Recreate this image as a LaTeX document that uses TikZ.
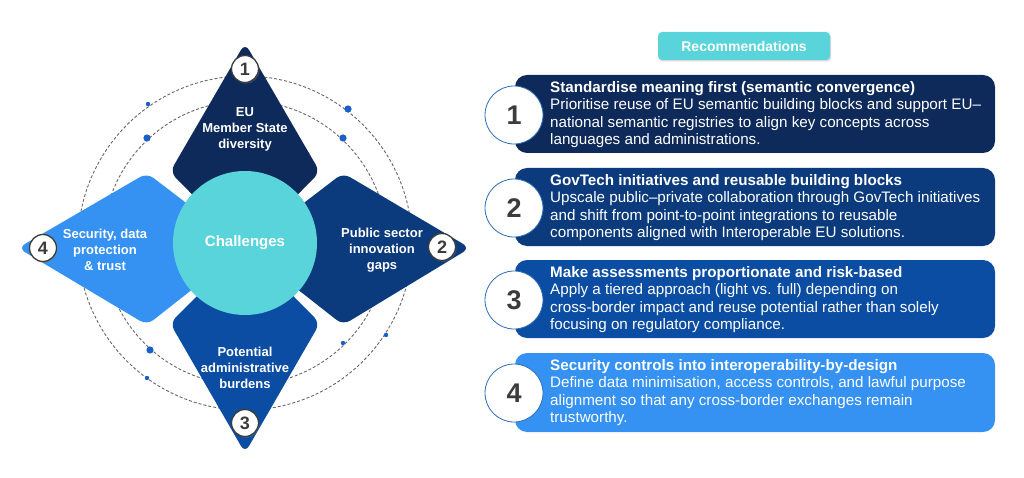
\documentclass[tikz,border=0pt]{standalone}
\usepackage{fontspec}
\setmainfont{Liberation Sans}
\usetikzlibrary{shadows}
\definecolor{cA}{HTML}{0E2A5A}
\definecolor{cB}{HTML}{0B3B7C}
\definecolor{cC}{HTML}{0A4DA2}
\definecolor{cD}{HTML}{3592F2}
\definecolor{teal}{HTML}{58D4DA}
\definecolor{dotblue}{HTML}{1A5FC8}
\definecolor{numgray}{HTML}{3C3C3C}
\definecolor{ringblue}{HTML}{2F6DB5}
\begin{document}
\begin{tikzpicture}[x=1pt,y=-1pt,
  kite/.style={rounded corners=8pt},
  kitelabel/.style={text=white,font=\fontsize{13}{16}\selectfont\bfseries,align=center,inner sep=0pt},
  lbadge/.style={circle,fill=white,draw=numgray,line width=1.3pt,minimum size=27pt,inner sep=0pt,
    font=\fontsize{18}{18}\selectfont\bfseries,text=numgray,
    drop shadow={opacity=0.35,shadow xshift=1pt,shadow yshift=-1.2pt}},
  rbadge/.style={circle,fill=white,draw=ringblue,line width=0.8pt,minimum size=58pt,inner sep=0pt,
    font=\fontsize{27}{27}\selectfont\bfseries,text=numgray},
  rbox/.style={rounded corners=12pt},
  rtext/.style={anchor=north west,align=left,inner sep=0pt,text=white,
    font=\fontsize{15.2}{17.5}\selectfont},
  ring/.style={draw=gray!80!black,line width=0.9pt,dash pattern=on 3pt off 2pt},
]
\useasboundingbox (0,0) rectangle (1024,478);

% dashed rings
\draw[ring] (245,243) circle[radius=167pt];
\draw[ring] (245,243) circle[radius=142pt];
% dots
\fill[dotblue] (148,104) circle[radius=2.2pt];
\fill[dotblue] (147,138) circle[radius=3.6pt];
\fill[dotblue] (348,109) circle[radius=3.6pt];
\fill[dotblue] (343,138) circle[radius=3.6pt];
\fill[dotblue] (343,343) circle[radius=2.2pt];
\fill[dotblue] (386,335) circle[radius=2.2pt];
\fill[dotblue] (150,350) circle[radius=3.6pt];
\fill[dotblue] (147,378) circle[radius=2.2pt];

% kites
\fill[cA,kite] (245,43) -- (320,172) -- (245,248) -- (170,172) -- cycle;
\fill[cB,kite] (470,248) -- (343,325) -- (245,248) -- (343,173) -- cycle;
\fill[cC,kite] (245,453) -- (170,323) -- (245,248) -- (320,323) -- cycle;
\fill[cD,kite] (18,248) -- (147,173) -- (245,248) -- (147,325) -- cycle;

% center circle
\node[circle,fill=teal,minimum size=144pt,inner sep=0pt,text=white,
  font=\fontsize{15}{15}\selectfont\bfseries] (ch) at (245,243) {Challenges};

% kite labels
\node[kitelabel] (k1) at (245,129) {EU\\Member State\\diversity};
\node[kitelabel] (k2) at (382,250) {Public sector\\innovation\\gaps};
\node[kitelabel] (k3) at (245,368) {Potential\\administrative\\burdens};
\node[kitelabel] (k4) at (105,250) {Security, data\\protection\\\& trust};

% left badges
\node[lbadge] (b1) at (245,69) {1};
\node[lbadge] (b2) at (442,247) {2};
\node[lbadge] (b3) at (245,423) {3};
\node[lbadge] (b4) at (43,248) {4};

% recommendations header
\node[rounded corners=4pt,fill=teal,minimum width=172pt,minimum height=28pt,inner sep=0pt,
  text=white,font=\fontsize{14}{14}\selectfont\bfseries,
  drop shadow={opacity=0.3,shadow xshift=1pt,shadow yshift=-1.5pt}] (rec) at (744,46) {Recommendations};

% rows
\fill[cA,rbox] (515,75) rectangle (995,153);
\fill[cB,rbox] (515,168) rectangle (995,246);
\fill[cC,rbox] (515,260) rectangle (995,338);
\fill[cD,rbox] (515,353) rectangle (995,432);

\node[rbadge] (r1) at (514,115) {1};
\node[rbadge] (r2) at (514,208) {2};
\node[rbadge] (r3) at (514,300) {3};
\node[rbadge] (r4) at (514,393) {4};

\node[rtext] (t1) at (550,81) {\textbf{Standardise meaning first (semantic convergence)}\\
Prioritise reuse of EU semantic building blocks and support EU–\\
national semantic registries to align key concepts across\\
languages and administrations.};
\node[rtext] (t2) at (550,174) {\textbf{GovTech initiatives and reusable building blocks}\\
Upscale public–private collaboration through GovTech initiatives\\
and shift from point-to-point integrations to reusable\\
components aligned with Interoperable EU solutions.};
\node[rtext] (t3) at (550,266) {\textbf{Make assessments proportionate and risk-based}\\
Apply a tiered approach (light vs. full) depending on\\
cross-border impact and reuse potential rather than solely\\
focusing on regulatory compliance.};
\node[rtext] (t4) at (550,359) {\textbf{Security controls into interoperability-by-design}\\
Define data minimisation, access controls, and lawful purpose\\
alignment so that any cross-border exchanges remain\\
trustworthy.};
\end{tikzpicture}
\end{document}
